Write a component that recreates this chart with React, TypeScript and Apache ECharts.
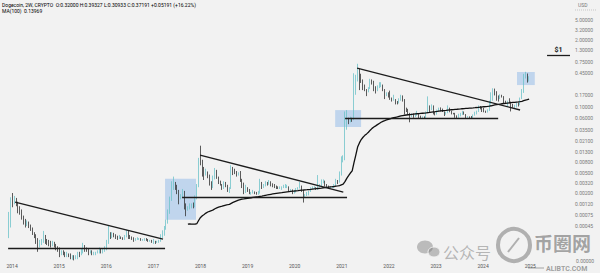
import { useEffect, useRef } from "react";
import * as echarts from "echarts";

// Two-week Dogecoin bars, [close, low, high]; each bar opens at the previous close.
const FIRST_OPEN = 0.00045;
const BAR_START = Date.UTC(2013, 11, 9);
const BAR_DAYS = 14;
const MA_LENGTH = 100;

const bars2013 = [
  [0.00045, 0.00026, 0.00085], [0.0015, 0.00042, 0.00165],
];
const bars2014 = [
  [0.0014, 0.00105, 0.002], [0.0015, 0.0012, 0.00175], [0.00125, 0.0011, 0.0016], [0.001, 0.0008, 0.00135],
  [0.0009, 0.00075, 0.0011], [0.00065, 0.0006, 0.00095], [0.0006, 0.00048, 0.00072], [0.0005, 0.00042, 0.00062],
  [0.00052, 0.00045, 0.00058], [0.00045, 0.00041, 0.00055], [0.00041, 0.00036, 0.00048], [0.00033, 0.0003, 0.00042],
  [0.0003, 0.00026, 0.00034], [0.00025, 0.0002, 0.00031], [0.0002, 0.00014, 0.00026], [0.00021, 0.00017, 0.00024],
  [0.00022, 0.00019, 0.00025], [0.00024, 0.00021, 0.00036], [0.00023, 0.0002, 0.0003], [0.00022, 0.00019, 0.00025],
  [0.00021, 0.00018, 0.00024], [0.0002, 0.00017, 0.00023], [0.00021, 0.00018, 0.00023], [0.00019, 0.00017, 0.00022],
  [0.00017, 0.00015, 0.0002], [0.00016, 0.00014, 0.00018],
];
const bars2015 = [
  [0.00013, 0.00011, 0.00017], [0.00014, 0.00012, 0.00015], [0.00013, 0.00012, 0.00015], [0.00012, 0.00011, 0.00014],
  [0.00013, 0.00011, 0.00014], [0.00012, 0.00011, 0.00013], [0.00011, 0.0001, 0.00013], [0.00011, 0.000098, 0.00012],
  [0.0001, 0.000095, 0.00012], [0.00011, 0.0001, 0.00012], [0.00013, 0.0001, 0.00014], [0.00012, 0.00011, 0.00014],
  [0.00014, 0.00012, 0.00016], [0.00017, 0.00013, 0.00021], [0.00016, 0.00014, 0.00019], [0.00015, 0.00014, 0.00017],
  [0.00014, 0.00012, 0.00016], [0.00014, 0.00013, 0.00015], [0.00013, 0.00012, 0.00015], [0.00013, 0.00012, 0.00014],
  [0.00013, 0.00012, 0.00014], [0.00014, 0.00013, 0.00015], [0.00015, 0.00013, 0.00017], [0.00014, 0.00013, 0.00016],
  [0.00015, 0.00013, 0.00016], [0.00016, 0.00014, 0.00018],
];
const bars2016 = [
  [0.00021, 0.00015, 0.00024], [0.0003, 0.0002, 0.00045], [0.00028, 0.00025, 0.00034], [0.00031, 0.00026, 0.00034],
  [0.0003, 0.00027, 0.00033], [0.00027, 0.00025, 0.00031], [0.00026, 0.00024, 0.00029], [0.00027, 0.00025, 0.0003],
  [0.00026, 0.00025, 0.00028], [0.00025, 0.00024, 0.00027], [0.00028, 0.00024, 0.0003], [0.00034, 0.00027, 0.00038],
  [0.00029, 0.00025, 0.00036], [0.00027, 0.00025, 0.0003], [0.00026, 0.00024, 0.00028], [0.00024, 0.00022, 0.00027],
  [0.00025, 0.00023, 0.00026], [0.00025, 0.00024, 0.00027], [0.00025, 0.00024, 0.00026], [0.00024, 0.00023, 0.00026],
  [0.00024, 0.00023, 0.00025], [0.00025, 0.00023, 0.00026], [0.00024, 0.00023, 0.00026], [0.00023, 0.00022, 0.00025],
  [0.00023, 0.00022, 0.00024], [0.00022, 0.00021, 0.00024],
];
const bars2017 = [
  [0.00022, 0.0002, 0.00025], [0.00021, 0.0002, 0.00023], [0.00022, 0.00021, 0.00023], [0.00023, 0.00021, 0.00024],
  [0.00028, 0.00022, 0.00031], [0.0003, 0.00026, 0.00037], [0.0004, 0.00029, 0.00045], [0.00052, 0.00038, 0.0006],
  [0.0008, 0.0005, 0.00095], [0.0015, 0.00078, 0.0017], [0.0029, 0.0014, 0.0034], [0.003, 0.0023, 0.0042],
  [0.0027, 0.0023, 0.0033], [0.0022, 0.0019, 0.0029], [0.0016, 0.0012, 0.0023], [0.00175, 0.0015, 0.0019],
  [0.002, 0.0016, 0.0024], [0.0012, 0.00095, 0.0022], [0.001, 0.0007, 0.00125], [0.001, 0.0009, 0.0011],
  [0.0011, 0.00095, 0.00125], [0.00115, 0.001, 0.00125], [0.0011, 0.001, 0.0013], [0.0016, 0.00105, 0.0018],
  [0.0027, 0.0015, 0.003], [0.009, 0.0026, 0.0098],
];
const bars2018 = [
  [0.0088, 0.007, 0.017], [0.0062, 0.0042, 0.009], [0.0048, 0.0036, 0.0065], [0.0052, 0.0044, 0.006],
  [0.0045, 0.0039, 0.0053], [0.0033, 0.0028, 0.0046], [0.0026, 0.0023, 0.0034], [0.0038, 0.0025, 0.0044],
  [0.0052, 0.0037, 0.0062], [0.0042, 0.0038, 0.0057], [0.0033, 0.003, 0.0042], [0.003, 0.0028, 0.0035],
  [0.0025, 0.0023, 0.003], [0.0032, 0.0024, 0.0034], [0.0028, 0.0026, 0.0033], [0.0023, 0.0021, 0.0029],
  [0.0024, 0.002, 0.0026], [0.0056, 0.0024, 0.007], [0.0055, 0.0045, 0.0065], [0.0051, 0.0047, 0.006],
  [0.0046, 0.0042, 0.0054], [0.0048, 0.0044, 0.0051], [0.0036, 0.0033, 0.0054], [0.0031, 0.0025, 0.0038],
  [0.0021, 0.0019, 0.0032], [0.0025, 0.002, 0.0029], [0.0023, 0.0021, 0.0026],
];
const bars2019 = [
  [0.002, 0.0019, 0.0024], [0.002, 0.00185, 0.0021], [0.00215, 0.00195, 0.0023], [0.002, 0.0019, 0.00215],
  [0.00195, 0.00185, 0.0021], [0.002, 0.00185, 0.0022], [0.0032, 0.00195, 0.0038], [0.0026, 0.0024, 0.0033],
  [0.0028, 0.0025, 0.003], [0.0031, 0.0027, 0.0034], [0.003, 0.0028, 0.0033], [0.0032, 0.0029, 0.0036],
  [0.003, 0.0027, 0.0034], [0.0029, 0.0026, 0.0031], [0.0027, 0.0025, 0.003], [0.0026, 0.0024, 0.0028],
  [0.0025, 0.0024, 0.0027], [0.0025, 0.0024, 0.0027], [0.0025, 0.0023, 0.0027], [0.0027, 0.0025, 0.0029],
  [0.0027, 0.0025, 0.003], [0.0027, 0.0025, 0.0029], [0.0023, 0.0021, 0.0027], [0.0023, 0.0022, 0.0024],
  [0.002, 0.0019, 0.00235], [0.0021, 0.00195, 0.0023],
];
const bars2020 = [
  [0.0024, 0.00205, 0.0025], [0.0025, 0.0023, 0.0026], [0.0027, 0.00245, 0.0033], [0.0022, 0.0021, 0.0028],
  [0.0017, 0.0013, 0.0023], [0.0018, 0.0016, 0.0019], [0.0019, 0.00175, 0.0021], [0.0021, 0.0018, 0.0022],
  [0.0024, 0.0021, 0.0026], [0.0025, 0.0024, 0.0027], [0.0025, 0.0024, 0.0027], [0.0024, 0.0023, 0.0026],
  [0.0026, 0.0023, 0.0045], [0.0027, 0.0026, 0.003], [0.0032, 0.0027, 0.0037], [0.0034, 0.0031, 0.0037],
  [0.003, 0.0027, 0.0035], [0.0027, 0.0026, 0.003], [0.0026, 0.0025, 0.0028], [0.0026, 0.0025, 0.0027],
  [0.0026, 0.0025, 0.0027], [0.0028, 0.0025, 0.003], [0.0034, 0.0027, 0.0038], [0.0033, 0.003, 0.0036],
  [0.0047, 0.0032, 0.0053], [0.0095, 0.0044, 0.0105],
];
const bars2021 = [
  [0.0098, 0.008, 0.011], [0.037, 0.0088, 0.08], [0.054, 0.035, 0.085], [0.05, 0.045, 0.06],
  [0.058, 0.049, 0.063], [0.055, 0.05, 0.06], [0.25, 0.054, 0.45], [0.32, 0.17, 0.42],
  [0.49, 0.31, 0.69], [0.33, 0.21, 0.55], [0.32, 0.29, 0.44], [0.25, 0.21, 0.34],
  [0.22, 0.2, 0.27], [0.19, 0.16, 0.22], [0.22, 0.19, 0.24], [0.31, 0.22, 0.35],
  [0.29, 0.27, 0.34], [0.24, 0.2, 0.32], [0.21, 0.18, 0.25], [0.24, 0.2, 0.26],
  [0.26, 0.23, 0.3], [0.26, 0.24, 0.3], [0.21, 0.2, 0.27], [0.17, 0.14, 0.22],
  [0.18, 0.16, 0.19], [0.16, 0.15, 0.19],
];
const bars2022 = [
  [0.145, 0.135, 0.205], [0.14, 0.125, 0.15], [0.14, 0.13, 0.17], [0.125, 0.11, 0.14],
  [0.115, 0.11, 0.128], [0.135, 0.115, 0.145], [0.14, 0.13, 0.17], [0.135, 0.125, 0.165],
  [0.09, 0.07, 0.14], [0.082, 0.078, 0.095], [0.075, 0.07, 0.09], [0.065, 0.049, 0.075],
  [0.068, 0.062, 0.073], [0.067, 0.06, 0.073], [0.069, 0.062, 0.075], [0.07, 0.066, 0.082],
  [0.062, 0.059, 0.071], [0.061, 0.058, 0.066], [0.061, 0.058, 0.064], [0.059, 0.057, 0.064],
  [0.075, 0.058, 0.08], [0.103, 0.074, 0.158], [0.085, 0.075, 0.105], [0.102, 0.085, 0.11],
  [0.076, 0.07, 0.105], [0.07, 0.067, 0.078],
];
const bars2023 = [
  [0.082, 0.069, 0.087], [0.092, 0.08, 0.095], [0.085, 0.08, 0.096], [0.08, 0.078, 0.091],
  [0.07, 0.065, 0.08], [0.075, 0.069, 0.078], [0.088, 0.074, 0.105], [0.08, 0.077, 0.095],
  [0.075, 0.07, 0.082], [0.072, 0.07, 0.075], [0.066, 0.06, 0.075], [0.062, 0.057, 0.067],
  [0.067, 0.06, 0.072], [0.069, 0.064, 0.075], [0.077, 0.068, 0.082], [0.07, 0.069, 0.08],
  [0.063, 0.058, 0.071], [0.063, 0.06, 0.065], [0.061, 0.059, 0.064], [0.06, 0.058, 0.065],
  [0.068, 0.058, 0.07], [0.075, 0.066, 0.079], [0.08, 0.07, 0.083], [0.095, 0.078, 0.105],
  [0.092, 0.088, 0.102], [0.089, 0.078, 0.098],
];
const bars2024 = [
  [0.081, 0.077, 0.094], [0.077, 0.075, 0.083], [0.085, 0.076, 0.088], [0.12, 0.082, 0.13],
  [0.17, 0.11, 0.19], [0.2, 0.13, 0.228], [0.19, 0.165, 0.225], [0.15, 0.13, 0.2],
  [0.145, 0.125, 0.165], [0.165, 0.14, 0.174], [0.156, 0.15, 0.17], [0.12, 0.115, 0.16],
  [0.116, 0.115, 0.13], [0.125, 0.099, 0.13], [0.12, 0.115, 0.145], [0.105, 0.08, 0.125],
  [0.1, 0.095, 0.113], [0.1, 0.09, 0.108], [0.11, 0.096, 0.12], [0.108, 0.1, 0.12],
  [0.145, 0.106, 0.15], [0.19, 0.14, 0.22], [0.38, 0.185, 0.438], [0.415, 0.355, 0.48],
  [0.32, 0.295, 0.445], [0.37191, 0.30933, 0.39327],
];

const yearBars = [
  bars2013, bars2014, bars2015, bars2016, bars2017, bars2018,
  bars2019, bars2020, bars2021, bars2022, bars2023, bars2024,
];

// Price scale labels (USD, log scale) and year labels
const priceTicks = [
  5, 3.2, 2, 1.3, 0.75, 0.45, 0.17, 0.1, 0.06, 0.035, 0.021, 0.013,
  0.008, 0.005, 0.0032, 0.002, 0.0012, 0.00075, 0.00045,
];
const yearTicks = [2014, 2015, 2016, 2017, 2018, 2019, 2020, 2021, 2022, 2023, 2024, 2025];

// Hand-drawn analysis: trend lines [from, price, to, price]
const trendLines = [
  ["2014-01-24", 0.00133, "2017-03-16", 0.000249],
  ["2013-12-01", 0.000166, "2017-04-01", 0.000166],
  ["2017-12-28", 0.0111, "2021-01-12", 0.00209],
  ["2017-08-11", 0.00166, "2021-02-10", 0.00166],
  ["2021-04-29", 0.57, "2024-10-14", 0.0854],
  ["2021-01-26", 0.0594, "2024-04-27", 0.0594],
];
// Highlighted zones [from, top price, to, bottom price]
const zones = [
  ["2017-04-01", 0.0038, "2017-11-27", 0.0006],
  ["2020-11-10", 0.085, "2021-05-30", 0.0396],
  ["2024-09-20", 0.476, "2025-02-05", 0.264],
];
// Target level
const targetPrice = 1;
const targetFrom = "2025-05-11";
const targetLabel = "$1";
const barCountdown = "5d 9h";

const X_MIN = Date.UTC(2013, 8, 29);
const X_MAX = Date.UTC(2025, 10, 5);
const Y_MIN = 0.0001058;
const Y_MAX = 12.36;

const UP = "#6fc3c9";
const DOWN = "#343434";
const FONT = "Roboto, 'Noto Sans', sans-serif";

export default function App() {
  const ref = useRef<HTMLDivElement>(null);

  useEffect(() => {
    if (!ref.current) return;
    const chart = echarts.init(ref.current, undefined, { renderer: "svg" });

    const candles: number[][] = [];
    const closes: number[] = [];
    let prev = FIRST_OPEN;
    yearBars.flat().forEach(([c, l, h], i) => {
      const t = BAR_START + i * BAR_DAYS * 86400000;
      candles.push([t, prev, c, l, h]);
      closes.push(c);
      prev = c;
    });

    const ma: number[][] = [];
    for (let i = MA_LENGTH - 1; i < closes.length; i++) {
      let s = 0;
      for (let k = i - MA_LENGTH + 1; k <= i; k++) s += closes[k];
      ma.push([candles[i][0], s / MA_LENGTH]);
    }

    const last = candles[candles.length - 1];
    const prevClose = candles[candles.length - 2][2];
    const chg = last[2] - prevClose;
    const pct = (chg / prevClose) * 100;
    const lastMa = ma[ma.length - 1][1];
    const f5 = (v: number) => v.toFixed(5);
    const sign = chg >= 0 ? "+" : "";

    const lineData = trendLines.map(([a, p1, b, p2]) => [
      { coord: [Date.parse(a as string), p1] },
      { coord: [Date.parse(b as string), p2] },
    ]);
    const zoneData = zones.map(([a, p1, b, p2]) => [
      { coord: [Date.parse(a as string), p1] },
      { coord: [Date.parse(b as string), p2] },
    ]);

    chart.setOption({
      animation: false,
      backgroundColor: "#f2f2f2",
      textStyle: { fontFamily: FONT },
      grid: { left: 0, right: 30, top: 0, bottom: 15, containLabel: false },
      xAxis: [
        {
          type: "time",
          min: X_MIN,
          max: X_MAX,
          axisLine: { show: false },
          axisTick: { show: false },
          splitLine: { show: false },
          axisLabel: { show: false },
        },
        {
          // year labels on a plain millisecond scale sharing the same extent
          type: "value",
          min: X_MIN,
          max: X_MAX,
          position: "bottom",
          axisLine: { show: false },
          axisTick: { show: false },
          splitLine: { show: false },
          axisLabel: {
            customValues: yearTicks.map((y) => Date.UTC(y, 0, 1)),
            formatter: (v: number) => String(new Date(v).getUTCFullYear()),
            fontSize: 5,
            color: "#555",
            margin: 5,
            fontFamily: FONT,
          },
        },
      ],
      yAxis: {
        type: "log",
        position: "right",
        min: Y_MIN,
        max: Y_MAX,
        axisLine: { show: false },
        axisTick: { show: false },
        splitLine: { show: false },
        axisLabel: {
          customValues: priceTicks,
          formatter: (v: number) => f5(v),
          fontSize: 5,
          color: "#7a7a7a",
          margin: 5,
          fontFamily: FONT,
        },
      },
      series: [
        {
          type: "candlestick",
          xAxisIndex: 0,
          data: candles,
          encode: { x: 0, y: [1, 2, 3, 4] },
          barWidth: 1.3,
          itemStyle: { color: UP, color0: DOWN, borderColor: UP, borderColor0: DOWN, borderWidth: 0.8 },
          markArea: {
            silent: true,
            itemStyle: { color: "rgba(110,165,230,0.38)" },
            data: zoneData,
          },
          markLine: {
            silent: true,
            symbol: ["none", "none"],
            animation: false,
            label: { show: false },
            lineStyle: { color: "#1c1c1c", width: 1.3, type: "solid" },
            data: [
              ...lineData,
              [
                {
                  coord: [Date.parse(targetFrom), targetPrice],
                  label: {
                    show: true,
                    position: "insideMiddleTop",
                    formatter: targetLabel,
                    fontSize: 7,
                    fontWeight: "bold",
                    color: "#222",
                    distance: 2,
                    fontFamily: FONT,
                  },
                },
                { coord: [X_MAX, targetPrice] },
              ],
              {
                yAxis: last[2],
                lineStyle: { opacity: 0 },
                label: {
                  show: true,
                  position: "end",
                  distance: 4,
                  formatter: `${f5(last[2])}\n${barCountdown}`,
                  backgroundColor: "#9c9c9c",
                  color: "#f4f4f4",
                  fontSize: 5,
                  lineHeight: 5.5,
                  padding: [0.5, 2, 0.5, 2],
                  offset: [0, 3.5],
                  fontFamily: FONT,
                },
              },
            ],
          },
        },
        {
          type: "line",
          xAxisIndex: 0,
          data: ma,
          showSymbol: false,
          lineStyle: { color: "#111", width: 1.3 },
          z: 3,
        },
      ],
      graphic: [
        {
          type: "text",
          left: 2,
          top: 2,
          style: {
            text:
              `{n|Dogecoin, 2W, CRYPTO}  {n|O:}{v|${f5(last[1])}} {n|H:}{v|${f5(last[4])}} ` +
              `{n|L:}{v|${f5(last[3])}} {n|C:}{v|${f5(last[2])}} {v|${sign}${f5(chg)} (${sign}${pct.toFixed(2)}%)}`,
            fontSize: 5,
            fontFamily: FONT,
            rich: {
              n: { fontSize: 5, color: "#333", fontFamily: FONT },
              v: { fontSize: 5, color: "#4fb3bb", fontFamily: FONT },
            },
          },
        },
        {
          type: "text",
          left: 2,
          top: 8,
          style: {
            text: `{n|MA(100)}  {n|${f5(lastMa)}}`,
            fontSize: 5,
            fontFamily: FONT,
            rich: { n: { fontSize: 5, color: "#333", fontFamily: FONT } },
          },
        },
        {
          type: "text",
          left: 578,
          top: 2,
          style: { text: "USD", fontSize: 5, fill: "#777", fontFamily: FONT },
        },
        {
          type: "line",
          shape: { x1: 575, y1: 10, x2: 596, y2: 10 },
          style: { stroke: "#aaa", lineWidth: 0.6, lineDash: [1, 1] },
        },
        {
          type: "text",
          left: 576,
          top: 258,
          style: { text: "0.00000", fontSize: 5, fill: "#7a7a7a", fontFamily: FONT },
        },
        // watermark
        {
          type: "group",
          silent: true,
          children: [
            { type: "ellipse", shape: { cx: 425, cy: 247, rx: 8, ry: 6.5 }, style: { fill: "rgba(120,120,120,0.45)" } },
            { type: "ellipse", shape: { cx: 434, cy: 252, rx: 6, ry: 5 }, style: { fill: "rgba(120,120,120,0.45)", stroke: "#f2f2f2", lineWidth: 1 } },
            {
              type: "text",
              x: 443,
              y: 252,
              style: {
                text: "公众号",
                fontSize: 16,
                fill: "rgba(120,120,120,0.5)",
                fontFamily: "'Noto Sans CJK SC', sans-serif",
                verticalAlign: "middle",
              },
            },
            { type: "circle", shape: { cx: 514, cy: 245, r: 16 }, style: { fill: "none", stroke: "rgba(110,110,110,0.5)", lineWidth: 4 } },
            { type: "line", shape: { x1: 508, y1: 252, x2: 519, y2: 238 }, style: { stroke: "rgba(110,110,110,0.5)", lineWidth: 2 } },
            {
              type: "text",
              x: 534,
              y: 242.5,
              style: {
                text: "币圈网",
                fontSize: 19,
                fontWeight: "bold",
                fill: "rgba(95,95,95,0.55)",
                fontFamily: "'Noto Sans CJK SC', sans-serif",
                verticalAlign: "middle",
              },
            },
            { type: "line", shape: { x1: 528, y1: 268, x2: 544, y2: 268 }, style: { stroke: "rgba(100,100,100,0.55)", lineWidth: 1 } },
            {
              type: "text",
              x: 546,
              y: 268.5,
              style: {
                text: "ALIBTC.COM",
                fontSize: 7,
                fontWeight: "bold",
                fill: "rgba(100,100,100,0.6)",
                fontFamily: FONT,
                verticalAlign: "middle",
              },
            },
          ],
        },
      ],
    });

    return () => chart.dispose();
  }, []);

  return (
    <div
      ref={ref}
      style={{ position: "fixed", left: 0, top: 0, width: 600, height: 273, background: "#f2f2f2" }}
    />
  );
}
